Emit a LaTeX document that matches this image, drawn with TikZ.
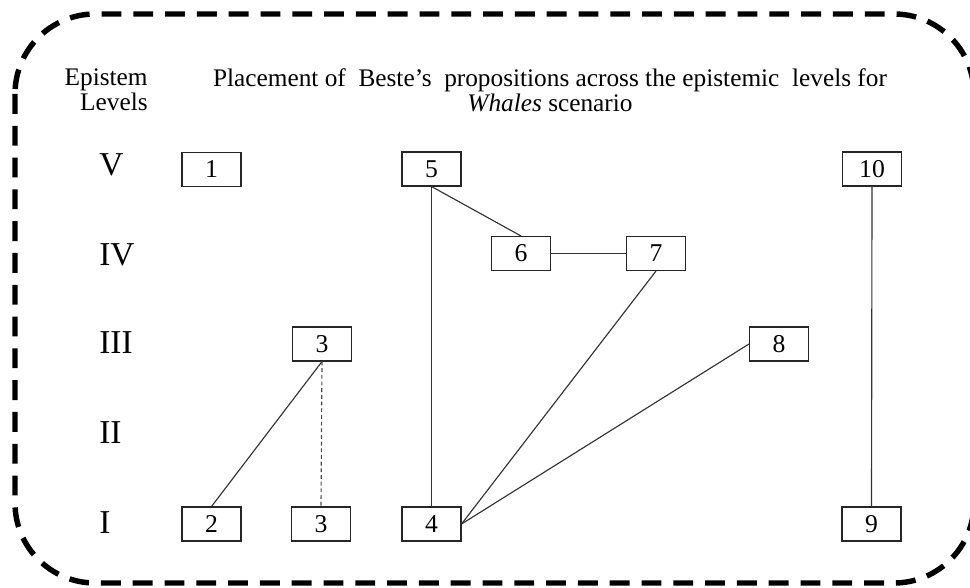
\documentclass[tikz,border=0pt]{standalone}
\usepackage{fontspec}
\setmainfont{Liberation Serif}
\begin{document}
\begin{tikzpicture}[x=0.02cm,y=-0.02cm,
  prop/.style={draw=black!85,line width=0.6pt,minimum width=1.18cm,minimum height=0.68cm,
    inner sep=0pt,font=\fontsize{14.6}{15}\selectfont},
  lvl/.style={anchor=west,inner sep=0pt,font=\fontsize{19}{21}\selectfont},
  head/.style={inner sep=0pt,font=\fontsize{14.4}{14.2}\selectfont},
  link/.style={draw=black!80,line width=0.65pt},
  weak/.style={draw=black!70,line width=0.65pt,dash pattern=on 2.2pt off 1.6pt},
  frame/.style={draw=black,line width=3.1pt,dash pattern=on 11.3pt off 6.8pt,rounded corners=1.6cm}]
\useasboundingbox (0,0) rectangle (970,588);

% outer dashed frame (its right side runs just past the page edge)
\draw[frame] (15,14) rectangle (974,583);

% header texts
\node[head,anchor=east,align=right] (levhead) at (148,90) {Epistem\\Levels};
\node[head,align=center] (title) at (550,90) {Placement of\ \ Beste’s\ \ propositions across the epistemic\ \ levels for\\\textit{Whales} scenario};

% epistemic level labels
\node[lvl] (lv5) at (99,165) {V};
\node[lvl] (lv4) at (99,255) {IV};
\node[lvl] (lv3) at (99,343) {III};
\node[lvl] (lv2) at (99,433) {II};
\node[lvl] (lv1) at (99,523) {I};

% propositions
\node[prop] (p1)  at (211.5,169.5) {1};
\node[prop] (p5)  at (431.5,169)   {5};
\node[prop] (p10) at (872,169)     {10};
\node[prop] (p6)  at (521,253.5)   {6};
\node[prop] (p7)  at (656,253.5)   {7};
\node[prop] (p3a) at (322,344)     {3};
\node[prop] (p8)  at (779,344)     {8};
\node[prop] (p2)  at (211.5,524)   {2};
\node[prop] (p3b) at (321,524)     {3};
\node[prop] (p4)  at (431.5,524)   {4};
\node[prop] (p9)  at (871.5,524)   {9};

% links between propositions
\draw[link] (p3a.south) -- (p2.north);
\draw[weak] (p3a.south) -- (p3b.north);
\draw[link] (p5.south) -- (p4.north);
\draw[link] (p5.south) -- (p6.north);
\draw[link] (p6.east) -- (p7.west);
\draw[link] (p7.south) -- (p4.east);
\draw[link] (p8.west) -- (p4.east);
\draw[link] (p10.south) -- (p9.north);
\end{tikzpicture}
\end{document}
